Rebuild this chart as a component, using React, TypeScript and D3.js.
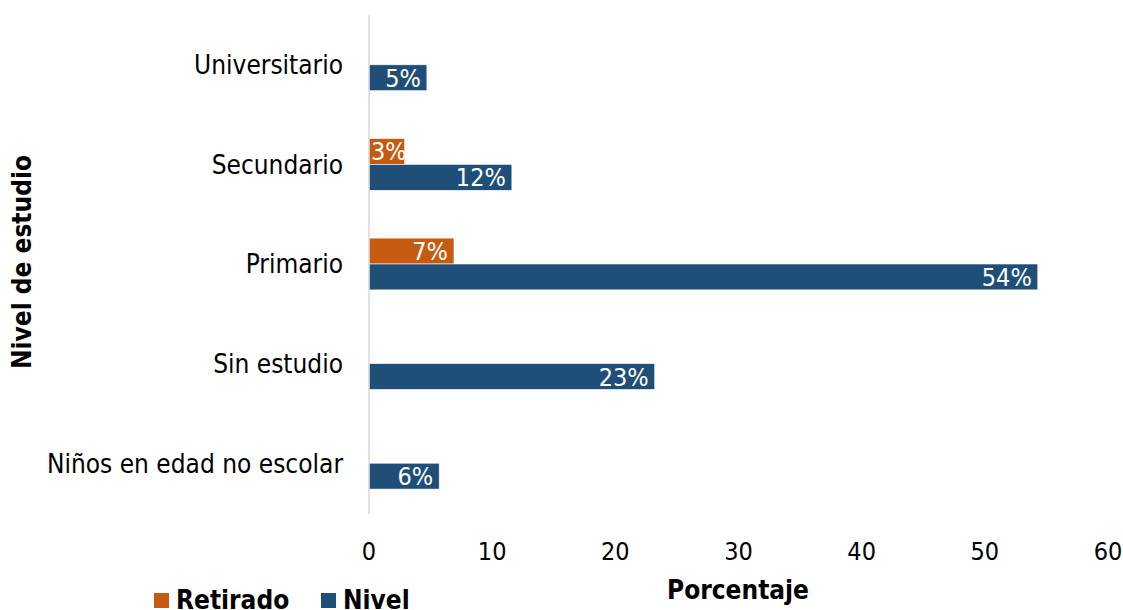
import React from "react";
import * as d3 from "d3";

// category order top -> bottom
const categories = [
  "Universitario",
  "Secundario",
  "Primario",
  "Sin estudio",
  "Niños en edad no escolar",
];
const retirado = [null, 2.9, 6.9, null, null];
const nivel = [4.7, 11.6, 54.3, 23.2, 5.7];
const retiradoLabels = ["", "3%", "7%", "", ""];
const nivelLabels = ["5%", "12%", "54%", "23%", "6%"];
const xTicks = [0, 10, 20, 30, 40, 50, 60];

const series = [
  { name: "Retirado", color: "#C55A11", values: retirado, labels: retiradoLabels },
  { name: "Nivel", color: "#1F4E79", values: nivel, labels: nivelLabels },
];

const width = 1123;
const height = 610;
const margin = { top: 15, right: 15, bottom: 97, left: 369 };
const font = "'DejaVu Sans Condensed', 'DejaVu Sans', sans-serif";

const App = () => {
  const x = d3
    .scaleLinear()
    .domain([0, 60])
    .range([margin.left, margin.left + 739]);

  const y = d3
    .scaleBand()
    .domain(categories)
    .range([margin.top, height - margin.bottom])
    .paddingInner(0.48)
    .paddingOuter(0.24);

  const inner = d3
    .scaleBand()
    .domain(series.map((s) => s.name))
    .range([0, y.bandwidth()]);

  return (
    <svg
      width={width}
      height={height}
      style={{ position: "absolute", left: 0, top: 0, background: "#fff", fontStretch: "condensed" }}
      fontFamily={font}
    >
      {/* bars */}
      {categories.map((c, i) => (
        <g key={c} transform={`translate(0, ${y(c)})`}>
          {series.map((s) => {
            const v = s.values[i];
            if (v == null) return null;
            const by = inner(s.name) as number;
            const bw = x(v) - x(0);
            const label = s.labels[i];
            // rough width of the label; if it doesn't fit, start it at the bar base and clip
            const est = label.length * 14.5;
            const fits = est + 8 < bw;
            const clipId = `clip-${i}-${s.name}`;
            return (
              <g key={s.name}>
                <clipPath id={clipId}>
                  <rect x={x(0)} y={by} width={bw} height={inner.bandwidth()} />
                </clipPath>
                <rect
                  x={x(0)}
                  y={by}
                  width={bw}
                  height={inner.bandwidth()}
                  fill={s.color}
                  stroke="#fff"
                  strokeWidth={0.6}
                />
                <text
                  x={fits ? x(v) - 6 : x(0) + 2}
                  y={by + inner.bandwidth() / 2}
                  dy="0.36em"
                  textAnchor={fits ? "end" : "start"}
                  fill="#fff"
                  fontSize={25}
                  clipPath={`url(#${clipId})`}
                >
                  {label}
                </text>
              </g>
            );
          })}
        </g>
      ))}

      {/* vertical axis line */}
      <line
        x1={x(0)}
        x2={x(0)}
        y1={margin.top}
        y2={height - margin.bottom + 1}
        stroke="#d9d9d9"
        strokeWidth={1.5}
      />

      {/* category labels */}
      {categories.map((c) => (
        <text
          key={c}
          x={x(0) - 26}
          y={(y(c) as number) + y.bandwidth() / 2}
          dy="0.36em"
          textAnchor="end"
          fontSize={26}
          fill="#000"
        >
          {c}
        </text>
      ))}

      {/* x ticks */}
      {xTicks.map((t) => (
        <text
          key={t}
          x={x(t)}
          y={551}
          dy="0.36em"
          textAnchor="middle"
          fontSize={25}
          fill="#000"
        >
          {t}
        </text>
      ))}

      {/* axis titles */}
      <text x={738} y={590} dy="0.36em" textAnchor="middle" fontSize={26} fontWeight="bold">
        Porcentaje
      </text>
      <text
        transform={`translate(22, 262) rotate(-90)`}
        dy="0.36em"
        textAnchor="middle"
        fontSize={26}
        fontWeight="bold"
      >
        Nivel de estudio
      </text>

      {/* legend */}
      <g transform="translate(154, 600)">
        <rect x={0} y={-7} width={15} height={15} fill={series[0].color} />
        <text x={22} y={0} dy="0.36em" fontSize={26} fontWeight="bold">
          Retirado
        </text>
        <rect x={167} y={-7} width={15} height={15} fill={series[1].color} />
        <text x={189} y={0} dy="0.36em" fontSize={26} fontWeight="bold">
          Nivel
        </text>
      </g>
    </svg>
  );
};

export default App;
